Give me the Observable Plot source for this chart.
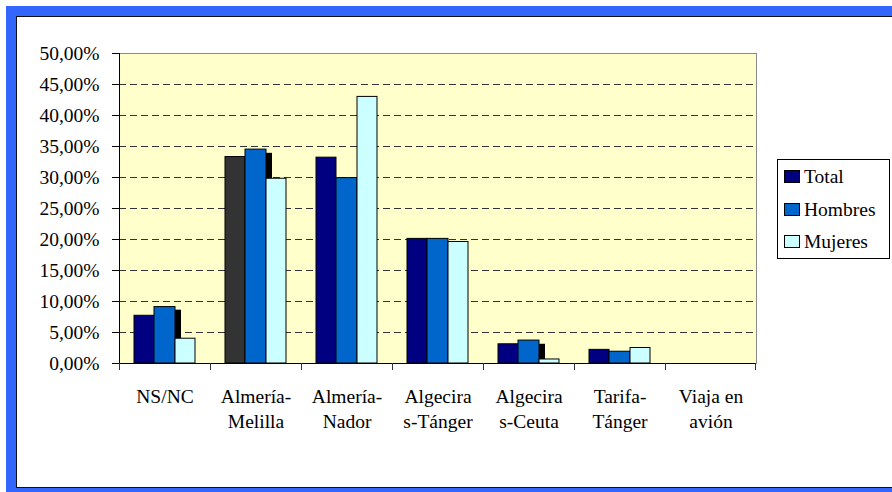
<!DOCTYPE html>
<html>
<head>
<meta charset="utf-8">
<script src="https://cdn.jsdelivr.net/npm/d3@7"></script>
<script src="https://cdn.jsdelivr.net/npm/@observablehq/plot@0.6"></script>
<style>
  html, body { margin: 0; padding: 0; width: 892px; height: 492px; overflow: hidden; background: #fff; }
  #outer { position: absolute; left: 6px; top: 6px; width: 1000px; height: 500px; background: #3366FF; }
  #inner { position: absolute; left: 16px; top: 16px; width: 1000px; height: 470px; background: #fff;
           border-top: 1px solid #111; border-left: 1px solid #111; border-bottom: 1px solid #111; }
  #chart { position: absolute; left: 0; top: 0; }
  #legend { position: absolute; left: 777px; top: 159px; width: 111px; height: 98px; background: #fff;
            border: 1px solid #000; font-family: "Liberation Serif", Tinos, "Times New Roman", "DejaVu Serif", serif; font-size: 19.5px; color: #000; }
  .row { position: absolute; left: 6px; height: 24px; line-height: 24px; white-space: nowrap; }
  .sw { position: absolute; left: 0; top: 5px; width: 14px; height: 11px; border: 1px solid #000; }
  .lab { position: absolute; left: 20px; top: 0; }
  #chart svg text { font-family: "Liberation Serif", Tinos, "Times New Roman", "DejaVu Serif", serif; }
</style>
</head>
<body>
<div id="outer"></div>
<div id="inner"></div>
<div id="chart"></div>
<div id="legend"></div>
<script>
const categories = ["NS/NC", "Almería-\nMelilla", "Almería-\nNador", "Algecira\ns-Tánger", "Algecira\ns-Ceuta", "Tarifa-\nTánger", "Viaja en\navión"];
const seriesNames = ["Total", "Hombres", "Mujeres"];
const totalValues   = [7.7, 33.3, 33.2, 20.1, 3.1, 2.2, 0];
const hombresValues = [9.1, 34.5, 29.9, 20.1, 3.7, 1.9, 0];
const mujeresValues = [4.0, 29.8, 43.0, 19.6, 0.65, 2.5, 0];
const shadowValues  = [8.6, 33.9, 0, 0, 3.1, 0, 0];
const yTicks = [0, 5, 10, 15, 20, 25, 30, 35, 40, 45, 50];
const gridTicks = [5, 10, 15, 20, 25, 30, 35, 40, 45];

const colors = {Total: "#000080", Hombres: "#0066CC", Mujeres: "#CCFFFF"};
const font = "'Liberation Serif', Tinos, 'Times New Roman', 'DejaVu Serif', serif";

const rows = (vals) => categories.map((c, i) => ({cat: c, value: vals[i]}));
const total = rows(totalValues), hombres = rows(hombresValues), mujeres = rows(mujeresValues);
const shadow = rows(shadowValues).filter(d => d.value > 0);

const chart = Plot.plot({
  width: 892,
  height: 492,
  marginLeft: 119,
  marginRight: 136,
  marginTop: 53,
  marginBottom: 129,
  style: {background: "transparent", fontSize: "19.5px", color: "#000"},
  x: {type: "band", domain: categories, padding: 0, axis: null, label: null},
  y: {domain: [0, 50], axis: null, label: null},
  marks: [
    Plot.frame({fill: "#FFFFCC"}),
    Plot.ruleY(gridTicks, {stroke: "#333", strokeDasharray: "7,4"}),
    Plot.frame({stroke: "#8a8a8a"}),
    // shadow artifacts
    Plot.barY(shadow, {x: "cat", y: "value", fill: "#000", insetLeft: 56, insetRight: 29}),
    Plot.barY(total, {x: "cat", y: "value", fill: d => d.cat === "Almería-\nMelilla" ? "#333333" : colors.Total, stroke: "#000", insetLeft: 15, insetRight: 56}),
    Plot.barY(hombres, {x: "cat", y: "value", fill: colors.Hombres, stroke: "#000", insetLeft: 35, insetRight: 35}),
    Plot.barY(mujeres, {x: "cat", y: "value", fill: colors.Mujeres, stroke: "#000", insetLeft: 56, insetRight: 15}),
    // left axis line
    Plot.barY([categories[0]], {x: d => d, y1: 0, y2: 50, fill: "#000", insetRight: 90}),
    // bottom axis line
    Plot.ruleY([0], {stroke: "#000"}),
    // category boundary ticks
    Plot.barY(categories, {x: d => d, y1: 0, y2: 0, insetBottom: -7, insetRight: 90, fill: "#333"}),
    Plot.barY([categories[categories.length - 1]], {x: d => d, y1: 0, y2: 0, insetBottom: -7, insetLeft: 90, fill: "#333"}),
    // y axis
    Plot.axisY(yTicks, {label: null, tickSize: 7, tickPadding: 13, tickFormat: d => d.toFixed(2).replace(".", ",") + "%", fontSize: 19.5, fontFamily: font, fill: "#000", stroke: "#000"}),
    // x labels
    Plot.text(categories, {x: d => d, y: 0, text: d => d, lineAnchor: "top", dy: 22, lineHeight: 1.28, fontSize: 19.5, fontFamily: font, fill: "#000"})
  ]
});
document.getElementById("chart").appendChild(chart);

const legend = document.getElementById("legend");
const rowTops = [5, 38, 70];
seriesNames.forEach((s, i) => {
  const r = document.createElement("div");
  r.className = "row";
  r.style.top = rowTops[i] + "px";
  r.innerHTML = `<div class="sw" style="background:${colors[s]}"></div><span class="lab">${s}</span>`;
  legend.appendChild(r);
});
</script>
</body>
</html>
